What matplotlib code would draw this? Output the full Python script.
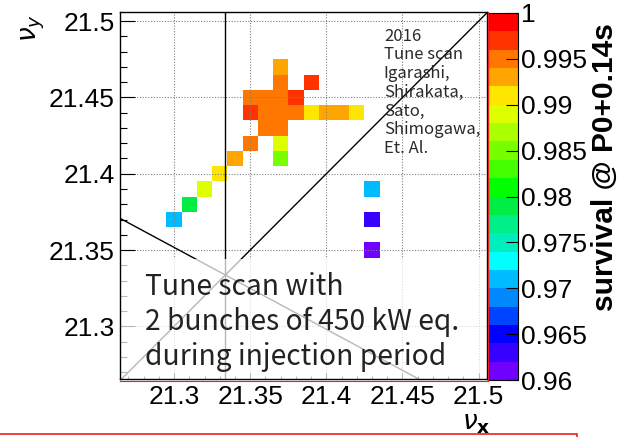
import matplotlib
matplotlib.use("Agg")
import matplotlib.pyplot as plt
import numpy as np
from matplotlib.colors import ListedColormap, BoundaryNorm
from matplotlib.patches import Rectangle
from matplotlib.lines import Line2D
from matplotlib.ticker import MultipleLocator, FuncFormatter

# tune scan bins: centre (nu_x, nu_y) and survival @ P0+0.14s
nu_x = [21.30, 21.31, 21.32, 21.33, 21.34, 21.35, 21.37, 21.37,
        21.36, 21.37,
        21.35, 21.36, 21.37, 21.38, 21.39, 21.40, 21.41, 21.42,
        21.35, 21.36, 21.37, 21.38,
        21.37, 21.39, 21.37,
        21.43, 21.43, 21.43]
nu_y = [21.37, 21.38, 21.39, 21.40, 21.41, 21.42, 21.41, 21.42,
        21.43, 21.43,
        21.44, 21.44, 21.44, 21.44, 21.44, 21.44, 21.44, 21.44,
        21.45, 21.45, 21.45, 21.45,
        21.46, 21.46, 21.47,
        21.39, 21.37, 21.35]
survival = [0.971, 0.979, 0.989, 0.991, 0.993, 0.995, 0.985, 0.989,
            0.995, 0.995,
            0.997, 0.995, 0.995, 0.995, 0.991, 0.993, 0.993, 0.991,
            0.995, 0.995, 0.995, 0.997,
            0.995, 0.997, 0.993,
            0.971, 0.963, 0.961]

bin_w = 0.01
z_levels = np.linspace(0.96, 1.0, 21)
z_ticks = np.linspace(0.96, 1.0, 9)

# ROOT-like rainbow palette, 20 contour levels (low -> high)
palette = ["#7000ff", "#3800ff", "#0000ff", "#0044ff", "#0088ff",
           "#00bbff", "#00ffff", "#00eebb", "#00ee88", "#00ee44",
           "#00ff00", "#44ff00", "#77ff00", "#aaff00", "#ddff00",
           "#ffe600", "#ffa500", "#ff7700", "#ff3300", "#ff0000"]

W, H = 628, 437
fig = plt.figure(figsize=(W / 100, H / 100), dpi=100)
ax = fig.add_axes([120 / W, 1 - 379 / H, 367 / W, 367 / H])
cax = fig.add_axes([488 / W, 1 - 380 / H, 30 / W, 367 / H])

# histogram grid from the bin centres
xs = np.array(nu_x)
ys = np.array(nu_y)
x_edges = np.arange(xs.min() - bin_w / 2, xs.max() + bin_w, bin_w)
y_edges = np.arange(ys.min() - bin_w / 2, ys.max() + bin_w, bin_w)
grid = np.full((len(y_edges) - 1, len(x_edges) - 1), np.nan)
for x, y, v in zip(xs, ys, survival):
    j = int(round((x - x_edges[0]) / bin_w - 0.5))
    i = int(round((y - y_edges[0]) / bin_w - 0.5))
    grid[i, j] = v

cmap = ListedColormap(palette)
norm = BoundaryNorm(z_levels, cmap.N)
mesh = ax.pcolormesh(x_edges, y_edges, np.ma.masked_invalid(grid),
                     cmap=cmap, norm=norm, zorder=1)

xlim = (21.2645, 21.5055)
ylim = (21.2655, 21.506)
ax.set_xlim(xlim)
ax.set_ylim(ylim)

# dotted grid at major ticks (drawn by hand so the veil can sit on top)
for g in np.arange(21.30, 21.501, 0.05):
    ax.axvline(g, color="#808080", lw=0.8, ls=(0, (1, 1.5)), zorder=1.5)
    ax.axhline(g, color="#808080", lw=0.8, ls=(0, (1, 1.5)), zorder=1.5)

# resonance lines
ax.axline((21.3, 21.3), slope=1, color="black", lw=1.0, zorder=1.8)
ax.axvline(64 / 3, color="black", lw=1.0, zorder=1.8)
ax.axline((21.2645, 21.3708), (21.4597, 21.266), color="black", lw=1.0, zorder=1.8)

# semi-transparent white box behind the big label
ax.add_patch(Rectangle((xlim[0], ylim[0]), xlim[1] - xlim[0], 21.344 - ylim[0],
                       facecolor="white", edgecolor="none", alpha=0.72, zorder=2))

fmt = FuncFormatter(lambda v, p: f"{round(v, 3):g}")
ax.xaxis.set_major_locator(MultipleLocator(0.05))
ax.xaxis.set_minor_locator(MultipleLocator(0.01))
ax.yaxis.set_major_locator(MultipleLocator(0.05))
ax.yaxis.set_minor_locator(MultipleLocator(0.01))
ax.xaxis.set_major_formatter(fmt)
ax.yaxis.set_major_formatter(fmt)
for lab in ax.get_xticklabels() + ax.get_yticklabels():
    lab.set_family("Liberation Sans")
ax.tick_params(axis="both", which="both", direction="in", width=0.8,
               labelsize=19, top=False, right=False)
ax.tick_params(axis="y", which="major", length=11, pad=4)
ax.tick_params(axis="y", which="minor", length=5)
ax.tick_params(axis="x", which="major", length=4, pad=4)
ax.tick_params(axis="x", which="minor", length=2)
for sp in ax.spines.values():
    sp.set_linewidth(1.0)

ax.text(0.068, 0.292, "Tune scan with\n2 bunches of 450 kW eq.\nduring injection period",
        transform=ax.transAxes, ha="left", va="top", fontsize=20.3,
        color="#222222", family=["Noto Sans CJK JP", "DejaVu Sans"],
        linespacing=1.22, zorder=3)
ax.text(0.719, 0.957, "2016\nTune scan\nIgarashi,\nShirakata,\nSato,\nShimogawa,\nEt. Al.",
        transform=ax.transAxes, ha="left", va="top", fontsize=12,
        color="#2a2a2a", family=["Noto Sans CJK JP", "DejaVu Sans"],
        linespacing=1.13, zorder=3)

# colour bar
cbar = fig.colorbar(mesh, cax=cax, ticks=z_ticks)
cbar.ax.yaxis.set_major_formatter(fmt)
cbar.ax.minorticks_off()
cbar.ax.tick_params(direction="in", length=9, width=0.8, labelsize=19, pad=2)
for lab in cbar.ax.get_yticklabels():
    lab.set_family("Liberation Sans")
cbar.outline.set_linewidth(0.8)
fig.text(605 / W, 1 - 167 / H, "survival @ P0+0.14s", rotation=90,
         ha="center", va="center", fontsize=21.5, fontweight="bold",
         family="Liberation Sans")

# axis titles
fig.text(33 / W, 1 - 28 / H, r"$\nu_y$", rotation=90, ha="center", va="center", fontsize=19)
fig.text(476 / W, 1 - 423 / H, r"$\nu_{\mathbf{x}}$", ha="center", va="center", fontsize=19)

# red frame pieces
red = "#e82020"
fig.add_artist(Line2D([120 / W, 487.5 / W, 487.5 / W], [1 - 380.5 / H, 1 - 380.5 / H, 1 - 12 / H],
                      color=red, lw=0.8, transform=fig.transFigure))
fig.add_artist(Line2D([0, 577 / W, 577 / W], [3 / H, 3 / H, 0],
                      color=red, lw=1.2, transform=fig.transFigure))

fig.savefig("out.png", dpi=100)
